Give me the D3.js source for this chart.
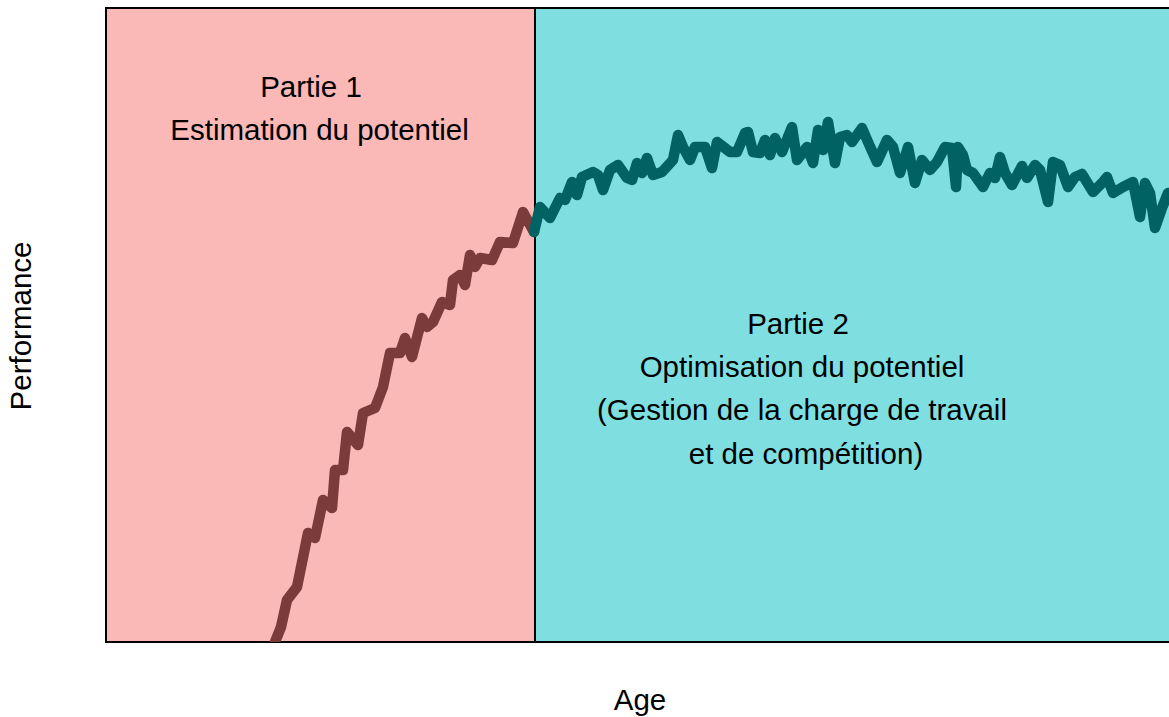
<!DOCTYPE html>
<html><head><meta charset="utf-8">
<script src="https://cdn.jsdelivr.net/npm/d3@7"></script>
<style>body{margin:0;background:#fff}svg{display:block}</style>
</head><body>
<script>
// Age units (arbitrary), performance units (arbitrary)
const phase1Age  = [169,175,181,191,202,209,217,226,229,237,241,252,257,269,277,284,294,299,306,316,321,327,336,344,347,354,359,364,369,374,386,394,407,417,428];
const phase1Perf = [0,15,42,55,109,104,142,134,172,172,210,197,229,234,255,289,289,304,285,324,315,320,340,337,362,367,357,387,375,384,382,400,399,430,410];
const phase2Age  = [428,434,444,454,459,466,471,476,487,492,497,504,512,521,526,531,536,541,547,556,567,572,577,584,589,599,606,611,624,631,639,642,647,654,659,664,669,676,686,691,701,707,712,717,722,729,734,741,746,756,762,771,781,787,794,802,809,816,824,831,839,846,850,852,857,861,867,877,884,889,894,899,906,916,921,929,934,942,947,954,962,969,976,987,996,1001,1007,1017,1027,1034,1039,1044,1049,1056,1062];
const phase2Perf = [410,435,424,444,442,460,447,465,470,467,452,472,477,464,462,479,469,484,467,470,482,507,495,482,495,495,474,500,490,490,509,510,490,489,502,487,504,490,515,482,495,479,512,492,520,479,505,507,500,514,500,480,502,495,469,495,459,482,472,480,495,494,455,495,487,472,469,455,469,464,485,469,457,476,464,477,472,440,480,477,455,465,468,450,459,465,449,455,460,425,459,449,414,434,449];
const zoneBreaks = [0, 429, 1075];
const zoneFills  = ["#FAB9B7", "#7FDFE0"];
const zoneTitles = [["Partie 1","Estimation du potentiel"],
  ["Partie 2","Optimisation du potentiel","(Gestion de la charge de travail","et de compétition)"]];
const lineColors = ["#7B3B3A", "#006262"];

const W = 1169, H = 717;
const m = {l:106, t:8, b:642};
const FS = 29.5;
const svg = d3.select("body").append("svg").attr("width", W).attr("height", H)
  .style("font-family", "'Liberation Sans', Arial, sans-serif");
const x = d3.scaleLinear().domain([0, 1063]).range([m.l, m.l + 1063]);
const y = d3.scaleLinear().domain([0, 634]).range([m.b, m.t]);

svg.append("defs").append("clipPath").attr("id","clip")
  .append("rect").attr("x", x(0)).attr("y", y(634)).attr("width", x(1075)-x(0)).attr("height", y(0)-y(634));

// zones
for (let i = 0; i < 2; i++) {
  svg.append("rect")
    .attr("x", x(zoneBreaks[i])).attr("y", y(634))
    .attr("width", x(zoneBreaks[i+1]) - x(zoneBreaks[i]))
    .attr("height", y(0) - y(634))
    .attr("fill", zoneFills[i]).attr("stroke", "#000").attr("stroke-width", 2);
}

const line = d3.line().x(d => x(d[0])).y(d => y(d[1]));
const g = svg.append("g").attr("clip-path", "url(#clip)");
g.append("path").datum(phase1Age.map((a,i)=>[a, phase1Perf[i]]))
  .attr("d", line).attr("fill","none").attr("stroke", lineColors[0])
  .attr("stroke-width", 10.5).attr("stroke-linejoin","round").attr("stroke-linecap","round");
g.append("path").datum(phase2Age.map((a,i)=>[a, phase2Perf[i]]))
  .attr("d", line).attr("fill","none").attr("stroke", lineColors[1])
  .attr("stroke-width", 10.5).attr("stroke-linejoin","round").attr("stroke-linecap","round");

// annotations (per-line centre x, first line y)
const titleX = [[311, 319.5], [798, 802, 802, 806]];
const titleY = [89, 326];
zoneTitles.forEach((lines, i) => {
  lines.forEach((t, j) => {
    svg.append("text").attr("x", titleX[i][j]).attr("y", titleY[i] + j*43.3)
      .attr("text-anchor","middle").attr("dominant-baseline","middle")
      .attr("font-size", FS).attr("fill","#000").text(t);
  });
});

svg.append("text").attr("x", 640).attr("y", 702).attr("text-anchor","middle")
  .attr("dominant-baseline","middle").attr("font-size", FS).text("Age");
svg.append("text").attr("transform","translate(23,326) rotate(-90)").attr("text-anchor","middle")
  .attr("dominant-baseline","middle").attr("font-size", FS).text("Performance");
</script>
</body></html>
